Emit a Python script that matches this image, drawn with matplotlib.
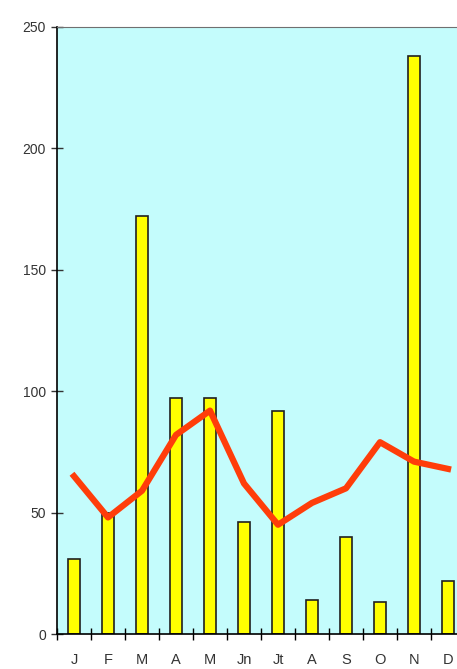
import matplotlib.pyplot as plt
import numpy as np

plt.rcParams['font.family'] = ['Liberation Sans', 'DejaVu Sans']

# monthly data
months = ["J", "F", "M", "A", "M", "Jn", "Jt", "A", "S", "O", "N", "D"]
rain = [31, 50, 172, 97, 97, 46, 92, 14, 40, 13, 238, 22]
mean = [65, 48, 59, 82, 92, 62, 45, 54, 60, 79, 71, 68]

fig = plt.figure(figsize=(4.57, 6.69), dpi=100, facecolor='w')
ax = fig.add_axes([57/457, 35/669, 408/457, 607/669])
ax.set_facecolor('#c4fcfc')

x = np.arange(len(months))
ax.bar(x, rain, width=0.37, color='#ffff00', edgecolor='#202020', lw=1.2, zorder=2)
ax.plot(x, mean, color='#ff3d0a', lw=4.5, solid_joinstyle='round', zorder=3)

ax.set_xlim(-0.5, 11.5)
ax.set_ylim(0, 250)
ax.set_yticks([0, 50, 100, 150, 200, 250])
ax.set_xticks(x)
ax.set_xticklabels(months)
ax.set_xticks(np.arange(-0.5, 12, 1), minor=True)
ax.tick_params(axis='x', which='major', length=0, pad=14, labelsize=10.5, colors='#333333')
ax.tick_params(axis='x', which='minor', length=8, direction='inout', width=1)
ax.tick_params(axis='y', length=8, direction='inout', width=1, labelsize=10, colors='#333333', pad=4)

ax.spines['right'].set_visible(False)
ax.spines['top'].set_color('#707070')
ax.spines['left'].set_linewidth(1.2)
ax.spines['bottom'].set_linewidth(1.2)

plt.savefig('out.png', dpi=100)
